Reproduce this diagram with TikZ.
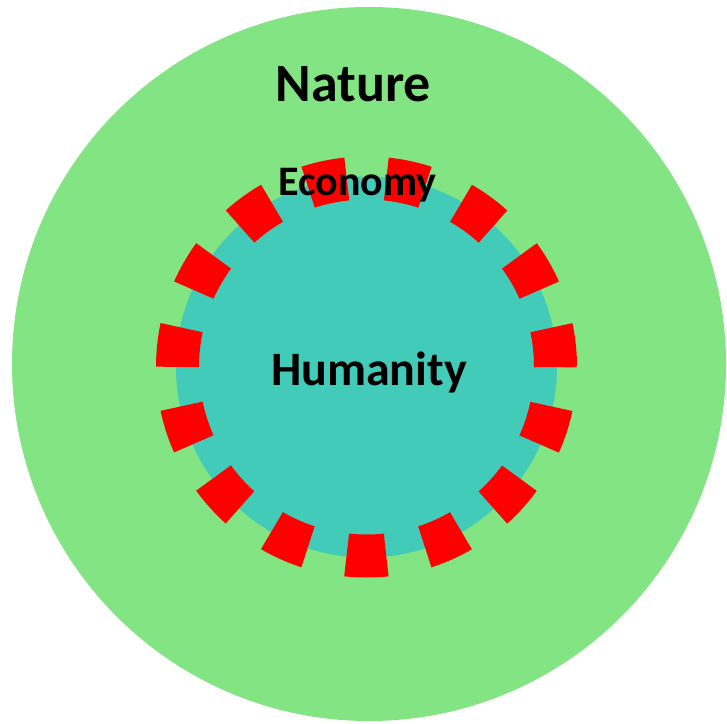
\documentclass[tikz,border=0pt]{standalone}
\usepackage{fontspec}
\setmainfont{Carlito}
\definecolor{naturegreen}{HTML}{82E482}
\definecolor{econteal}{HTML}{42CBB8}
\definecolor{ringred}{HTML}{FF0000}
\begin{document}
\begin{tikzpicture}[x=1pt,y=1pt,
  labeltext/.style={font=\bfseries, text=black, anchor=base, inner sep=0pt}]
\useasboundingbox (0,0) rectangle (727,723);
\fill[naturegreen] (369,359) circle[radius=357];
\fill[econteal] (366.5,356) circle[radius=190.5];
\pgfmathsetmacro{\dashlen}{2*pi*189/30}
\draw[ringred, line width=43pt, dash pattern=on \dashlen pt off \dashlen pt] (366.5,356) circle[radius=189];
\node[labeltext, font=\fontsize{54}{60}\selectfont\bfseries] (nature) at (353.5,621) {Nature};
\node[labeltext, font=\fontsize{42}{48}\selectfont\bfseries] (economy) at (357.5,527) {Economy};
\node[labeltext, font=\fontsize{48}{54}\selectfont\bfseries] (humanity) at (369,337) {Humanity};
\end{tikzpicture}
\end{document}
